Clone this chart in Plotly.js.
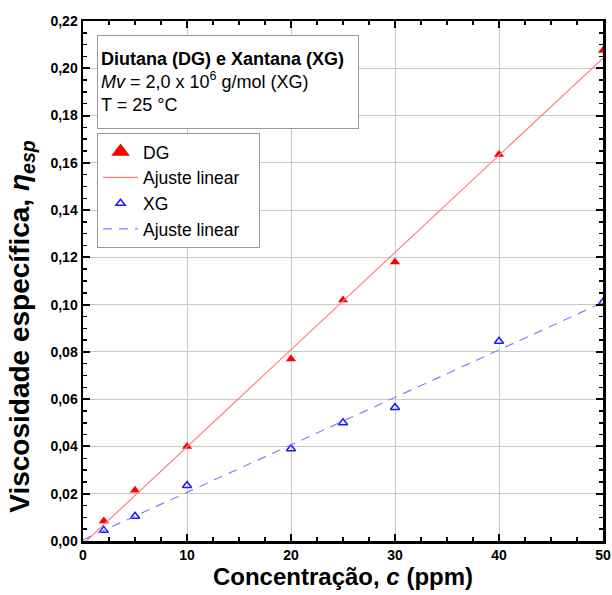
<!DOCTYPE html>
<html>
<head>
<meta charset="utf-8">
<script src="https://cdn.plot.ly/plotly-3.0.1.min.js"></script>
<style>
  html, body { margin: 0; padding: 0; background: #fff; }
  #chart { width: 612px; height: 595px; }
</style>
</head>
<body>
<div id="chart"></div>
<script>
// Concentração (ppm)
const concentracao = [2, 5, 10, 20, 25, 30, 40, 50];
// Viscosidade específica — Diutana (DG)
const etaDG = [0.0085, 0.0215, 0.0400, 0.0770, 0.1020, 0.1180, 0.1635, 0.2075];
// Viscosidade específica — Xantana (XG)
const etaXG = [0.0045, 0.0105, 0.0235, 0.0390, 0.0500, 0.0565, 0.0845, 0.1010];
// Extensão das retas de ajuste
const faixaAjuste = [0, 50];

// Ajuste linear por mínimos quadrados
function ajusteLinear(x, y) {
  const n = x.length;
  const mx = x.reduce((a, b) => a + b, 0) / n;
  const my = y.reduce((a, b) => a + b, 0) / n;
  let sxy = 0, sxx = 0;
  for (let i = 0; i < n; i++) {
    sxy += (x[i] - mx) * (y[i] - my);
    sxx += (x[i] - mx) * (x[i] - mx);
  }
  const b = sxy / sxx;
  const a = my - b * mx;
  return faixaAjuste.map(v => a + b * v);
}

const FONT = 'Liberation Sans, Arial, sans-serif';

const traces = [
  {
    x: concentracao, y: etaDG, name: 'DG', type: 'scatter', mode: 'markers',
    marker: { symbol: 'triangle-up', size: 9, color: '#ff0000' }
  },
  {
    x: faixaAjuste, y: ajusteLinear(concentracao, etaDG), name: 'Ajuste linear',
    type: 'scatter', mode: 'lines',
    line: { color: '#ff8080', width: 1.2 }
  },
  {
    x: concentracao, y: etaXG, name: 'XG', type: 'scatter', mode: 'markers',
    marker: { symbol: 'triangle-up-open', size: 8, color: '#1a1aff', line: { width: 1.5, color: '#1a1aff' } }
  },
  {
    x: faixaAjuste, y: ajusteLinear(concentracao, etaXG), name: 'Ajuste linear',
    type: 'scatter', mode: 'lines',
    line: { color: '#8080ff', width: 1.2, dash: '9px,7px' }
  }
];

const eixoComum = {
  showline: true, linecolor: '#000', linewidth: 2.5, mirror: 'ticks',
  ticks: 'inside', ticklen: 7, tickwidth: 2, tickcolor: '#000',
  showgrid: true, gridcolor: '#c8c8c8', gridwidth: 1, zeroline: false,
  tickfont: { family: FONT, size: 14, color: '#000', weight: 'bold' }
};

const layout = {
  width: 612, height: 595,
  margin: { l: 83, r: 9, t: 21, b: 54 },
  paper_bgcolor: '#fff', plot_bgcolor: '#fff',
  separators: ',.',
  showlegend: true,
  font: { family: FONT, color: '#000' },
  xaxis: Object.assign({}, eixoComum, {
    range: [0, 50], dtick: 10, tick0: 0,
    minor: { dtick: 2.5, ticks: 'inside', ticklen: 4, tickwidth: 1.5, tickcolor: '#000', showgrid: false },
    title: { text: '<b>Concentração, <i>c</i> (ppm)</b>', font: { family: FONT, size: 24, color: '#000' }, standoff: 4 }
  }),
  yaxis: Object.assign({}, eixoComum, {
    range: [0, 0.22], dtick: 0.02, tick0: 0, tickformat: '.2f',
    minor: { dtick: 0.005, ticks: 'inside', ticklen: 4, tickwidth: 1.5, tickcolor: '#000', showgrid: false }
  }),
  legend: {
    x: 0.027, y: 0.785, xanchor: 'left', yanchor: 'top',
    bgcolor: '#fff', bordercolor: '#999', borderwidth: 1,
    font: { family: FONT, size: 17.5, color: '#000' },
    tracegroupgap: 0, itemwidth: 35
  },
  annotations: [
    {
      xref: 'paper', yref: 'paper', x: 0.027, y: 0.973, xanchor: 'left', yanchor: 'top',
      align: 'left', valign: 'middle', showarrow: false, width: 254, height: 86,
      bgcolor: '#fff', bordercolor: '#999', borderwidth: 1, borderpad: 3,
      font: { family: FONT, size: 18, color: '#000' },
      text: '<b>Diutana (DG) e Xantana (XG)</b><br><i>Mv</i> = 2,0 x 10<sup>6</sup> g/mol (XG)<br>T = 25 °C'
    },
    {
      // título do eixo y
      xref: 'paper', yref: 'paper', x: 0, y: 0.412, xanchor: 'center', yanchor: 'middle',
      xshift: -61, textangle: -90, showarrow: false,
      font: { family: FONT, size: 28, color: '#000' },
      text: '<b>Viscosidade específica, <i>η<sub>esp</sub></i></b>'
    }
  ]
};

Plotly.newPlot('chart', traces, layout, { displayModeBar: false, staticPlot: true }).then(gd => {
  // símbolo do DG maior na legenda
  const pts = gd.querySelectorAll('.legend .traces')[0].querySelectorAll('path.scatterpts');
  pts.forEach(p => {
    const t = p.getAttribute('transform') || '';
    p.setAttribute('transform', t + ' scale(1.8)');
  });
  // caixa da legenda um pouco mais larga
  const bg = gd.querySelector('.legend rect.bg');
  if (bg) {
    const w = parseFloat(bg.getAttribute('width'));
    if (!isNaN(w)) bg.setAttribute('width', w + 14);
  }
});
</script>
</body>
</html>
